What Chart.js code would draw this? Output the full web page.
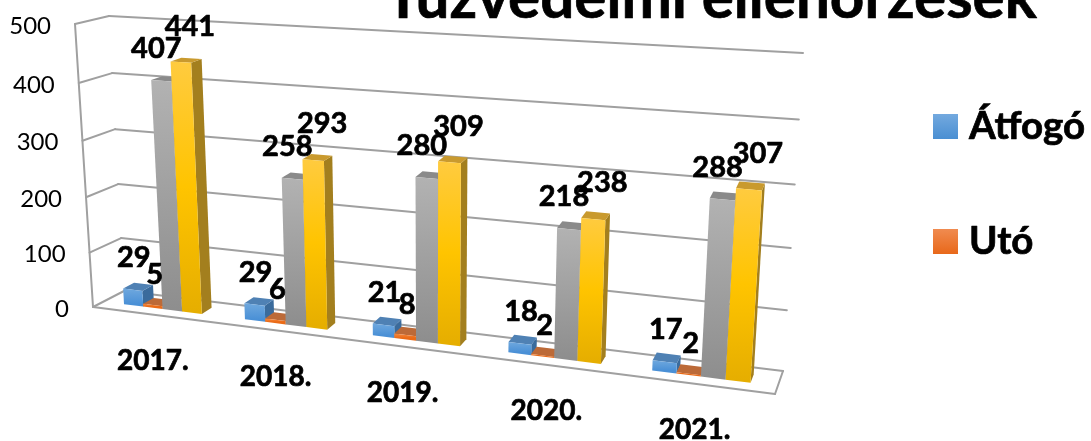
<!DOCTYPE html>
<html lang="hu">
<head>
<meta charset="utf-8">
<style>html,body{margin:0;padding:0;background:#fff}canvas{display:block}</style>
<script src="https://cdn.jsdelivr.net/npm/chart.js@4"></script>
</head>
<body>
<canvas id="c" width="1091" height="441"></canvas>
<script>
const categories = ['2017.', '2018.', '2019.', '2020.', '2021.'];
const atfogo = [29, 29, 21, 18, 17];
const uto = [5, 6, 8, 2, 2];
const sorozat3 = [407, 258, 280, 218, 288];
const sorozat4 = [441, 293, 309, 238, 307];
const chartTitle = 'Tűzvédelmi ellenőrzések';
const legendShown = ['Átfogó', 'Utó'];

const FONT = 'Lato, Carlito, sans-serif';
// projection box of the 3-D look (front and back plane corners)
const FRONT = {bl:[93,307], br:[775,394], tr:[796,70], tl:[75,24]};
const BACK  = {bl:[124,291], br:[783,371], tr:[803,53], tl:[109,16]};
const BAR_D1 = 0.34, BAR_D2 = 0.70;
const lerp = (a,b,t)=>a+(b-a)*t;
const cache = {};
function homography(d){
  if(cache[d]) return cache[d];
  const q = k=>[lerp(FRONT[k][0],BACK[k][0],d), lerp(FRONT[k][1],BACK[k][1],d)];
  const [x0,y0]=q('bl'),[x1,y1]=q('br'),[x2,y2]=q('tr'),[x3,y3]=q('tl');
  const dx1=x1-x2,dx2=x3-x2,sx=x0-x1+x2-x3,dy1=y1-y2,dy2=y3-y2,sy=y0-y1+y2-y3;
  const den=dx1*dy2-dx2*dy1;
  const g=(sx*dy2-dx2*sy)/den,h=(dx1*sy-sx*dy1)/den;
  return cache[d]={a:x1-x0+g*x1,b:x3-x0+h*x3,c:x0,d:y1-y0+g*y1,e:y3-y0+h*y3,f:y0,g,h};
}
function P(u,v,d){
  const H=homography(d),w=H.g*u+H.h*v+1;
  return [(H.a*u+H.b*v+H.c)/w,(H.d*u+H.e*v+H.f)/w];
}
function poly(ctx,pts,fill){
  ctx.beginPath();
  pts.forEach((p,i)=>i?ctx.lineTo(p[0],p[1]):ctx.moveTo(p[0],p[1]));
  ctx.closePath();
  ctx.fillStyle=fill;ctx.fill();
}
function seg(ctx,a,b){ctx.beginPath();ctx.moveTo(a[0],a[1]);ctx.lineTo(b[0],b[1]);ctx.stroke();}
function boldText(ctx,t,x,y){
  ctx.lineWidth=0.7;ctx.strokeStyle='#000';ctx.lineJoin='round';
  ctx.strokeText(t,x,y);ctx.fillText(t,x,y);
}

const seriesStyle = [
  {stops:['#6FA8DE','#4A90D6'],top:'#4F81B4',side:'#3A6B9C',off:[1,-32]},
  {stops:['#F4883F','#EA6A16'],top:'#BC6A38',side:'#A9521E',off:[2,-30]},
  {stops:['#B2B2B2','#8E8E8E'],top:'#8A8A8A',side:'#6F6F6F',off:[-5,-32]},
  {stops:['#FFCB3F','#FFC400','#E6AE00'],top:'#C99A2E',side:'#A37F1E',off:[9,-36]}
];
const xLabelNudge = [0,-2,-7,-3,-3];
const legendBoxes = [[933,114,['#73A9DF','#4A8FD2']],[933,229,['#F08B50','#E8681A']]];

const perspective = {
  id:'perspective',
  beforeDraw(chart){
    const ctx=chart.ctx;
    ctx.save();
    ctx.fillStyle='#000';ctx.font='bold 60.2px '+FONT;ctx.textAlign='center';ctx.textBaseline='alphabetic';
    boldText(ctx,chartTitle,711,18);
    // legend: only the entries visible in the reference
    ctx.font='bold 38.5px '+FONT;ctx.textAlign='left';ctx.textBaseline='middle';
    chart.data.datasets.filter(d=>legendShown.includes(d.label)).forEach((d,i)=>{
      const [x,y,cols]=legendBoxes[i];
      const gr=ctx.createLinearGradient(0,y,0,y+25);
      gr.addColorStop(0,cols[0]);gr.addColorStop(1,cols[1]);
      ctx.fillStyle=gr;ctx.fillRect(x,y,25,25);
      ctx.fillStyle='#000';
      boldText(ctx,d.label,x+36,y+13);
    });
    ctx.restore();
  },
  beforeDatasetsDraw(chart){
    const ctx=chart.ctx,xs=chart.scales.x,ys=chart.scales.y,area=chart.chartArea;
    const U=x=>(x-area.left)/area.width;
    const V=val=>(ys.bottom-ys.getPixelForValue(val))/(ys.bottom-ys.top);
    ctx.save();
    // walls and floor
    ctx.strokeStyle='#A0A0A0';ctx.lineWidth=2;ctx.lineCap='round';
    ys.ticks.forEach(t=>{
      const v=V(t.value);
      seg(ctx,P(0,v,0),P(0,v,1));
      seg(ctx,P(0,v,1),P(1,v,1));
    });
    seg(ctx,P(0,0,0),P(0,1,0));
    seg(ctx,P(0,0,0),P(1,0,0));
    seg(ctx,P(1,0,0),P(1,0,1));
    // y tick labels
    ctx.fillStyle='#000';ctx.font='24px '+FONT;ctx.textAlign='right';ctx.textBaseline='middle';
    ys.ticks.forEach(t=>{
      const p=P(0,V(t.value),0);
      ctx.fillText(String(t.value),p[0]-24,p[1]+2);
    });
    // x labels
    ctx.font='bold 28px '+FONT;ctx.textAlign='center';
    categories.forEach((c,i)=>{
      const p=P(U(xs.getPixelForValue(i)),0,0);
      boldText(ctx,xs.getLabelForValue(i),p[0]+xLabelNudge[i],p[1]+46);
    });
    // bars: left to right so nearer faces overlap correctly
    const labels=[];
    categories.forEach((c,i)=>{
      chart.data.datasets.forEach((ds,k)=>{
        const el=chart.getDatasetMeta(k).data[i],s=seriesStyle[k];
        const u1=U(el.x-el.width/2),u2=U(el.x+el.width/2),v=V(ds.data[i]);
        const fb1=P(u1,0,BAR_D1),fb2=P(u2,0,BAR_D1),ft1=P(u1,v,BAR_D1),ft2=P(u2,v,BAR_D1);
        const bb2=P(u2,0,BAR_D2),bt1=P(u1,v,BAR_D2),bt2=P(u2,v,BAR_D2);
        poly(ctx,[fb2,bb2,bt2,ft2],s.side);
        poly(ctx,[ft1,ft2,bt2,bt1],s.top);
        const gr=ctx.createLinearGradient(0,ft1[1],0,fb1[1]);
        s.stops.forEach((col,n)=>gr.addColorStop(n/(s.stops.length-1),col));
        poly(ctx,[fb1,fb2,ft2,ft1],gr);
        labels.push([String(ds.data[i]),(ft1[0]+ft2[0])/2+s.off[0],(ft1[1]+ft2[1])/2+s.off[1]]);
      });
    });
    ctx.fillStyle='#000';ctx.font='bold 29px '+FONT;ctx.textAlign='center';ctx.textBaseline='middle';
    labels.forEach(l=>boldText(ctx,l[0],l[1],l[2]));
    ctx.restore();
    return false;
  }
};

new Chart(document.getElementById('c'),{
  type:'bar',
  data:{
    labels:categories,
    datasets:[
      {label:'Átfogó',data:atfogo,backgroundColor:'#5B9BD5'},
      {label:'Utó',data:uto,backgroundColor:'#ED7D31'},
      {label:'Sorozat3',data:sorozat3,backgroundColor:'#A5A5A5'},
      {label:'Sorozat4',data:sorozat4,backgroundColor:'#FFC000'}
    ]
  },
  options:{
    responsive:false,animation:false,
    categoryPercentage:0.65,barPercentage:1,
    layout:{padding:0},
    scales:{
      x:{display:false},
      y:{display:false,min:0,max:500,ticks:{stepSize:100}}
    },
    plugins:{
      title:{display:false},
      tooltip:{enabled:false},
      legend:{display:false}
    }
  },
  plugins:[perspective]
});
</script>
</body>
</html>
